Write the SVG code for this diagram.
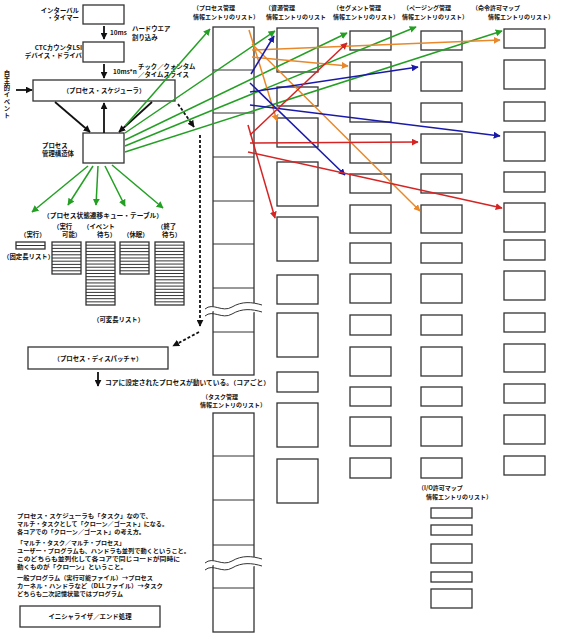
<svg xmlns="http://www.w3.org/2000/svg" width="561" height="640" viewBox="0 0 561 640">
<style>
.bx{fill:#fff;stroke:#333;stroke-width:1.3}
.ln{fill:none;stroke:#333;stroke-width:1}
.t{font-family:"Noto Sans CJK JP",sans-serif;font-size:6.4px;font-weight:700;fill:#111}
.n{font-family:"Noto Sans CJK JP",sans-serif;font-size:6px;font-weight:700;fill:#111}
.h{font-family:"Noto Sans CJK JP",sans-serif;font-size:6px;font-weight:700;fill:#111}
.v{font-family:"Noto Sans CJK JP",sans-serif;font-size:6.4px;font-weight:700;fill:#111;writing-mode:vertical-rl;letter-spacing:0.7px}
.k{fill:none;stroke:#111;stroke-width:1.8}
.g{fill:none;stroke:#23a023;stroke-width:1.5}
.o{fill:none;stroke:#e8882a;stroke-width:1.5}
.b{fill:none;stroke:#1a1aa8;stroke-width:1.5}
.r{fill:none;stroke:#d42424;stroke-width:1.5}
.d{fill:none;stroke:#111;stroke-width:1.8;stroke-dasharray:3 2}
</style>
<defs>
<marker id="mk" viewBox="0 0 10 10" refX="9" refY="5" markerWidth="7" markerHeight="7" markerUnits="userSpaceOnUse" orient="auto"><path d="M0,0L10,5L0,10z" fill="#111"/></marker>
<marker id="mg" viewBox="0 0 10 10" refX="9" refY="5" markerWidth="7" markerHeight="7" markerUnits="userSpaceOnUse" orient="auto"><path d="M0,0L10,5L0,10z" fill="#23a023"/></marker>
<marker id="mo" viewBox="0 0 10 10" refX="9" refY="5" markerWidth="7" markerHeight="7" markerUnits="userSpaceOnUse" orient="auto"><path d="M0,0L10,5L0,10z" fill="#e8882a"/></marker>
<marker id="mb" viewBox="0 0 10 10" refX="9" refY="5" markerWidth="7" markerHeight="7" markerUnits="userSpaceOnUse" orient="auto"><path d="M0,0L10,5L0,10z" fill="#1a1aa8"/></marker>
<marker id="mr" viewBox="0 0 10 10" refX="9" refY="5" markerWidth="7" markerHeight="7" markerUnits="userSpaceOnUse" orient="auto"><path d="M0,0L10,5L0,10z" fill="#d42424"/></marker>
</defs>
<rect width="561" height="640" fill="#fff"/>

<g id="timer">
<rect class="bx" x="83" y="5" width="41" height="19"/>
<text class="t" x="79" y="12.5" text-anchor="end">インターバル</text>
<text class="t" x="79" y="20" text-anchor="end">・タイマー</text>
</g>
<g id="ctc">
<rect class="bx" x="83" y="42" width="41" height="20"/>
<text class="t" x="82" y="50" text-anchor="end">CTCカウンタLSI</text>
<text class="t" x="82" y="58" text-anchor="end">デバイス・ドライバ</text>
</g>
<g id="labels-top">
<text class="t" x="110" y="34.5">10ms</text>
<text class="t" x="132" y="30.5">ハードウエア</text>
<text class="t" x="132" y="39.5">割り込み</text>
<text class="t" x="113" y="73.5">10ms*n</text>
<text class="t" x="138" y="68.5">チック／クォンタム</text>
<text class="t" x="138" y="76.5">／タイムスライス</text>
<text class="v" x="7" y="70">自主的イベント</text>
</g>
<g id="scheduler">
<rect class="bx" x="33" y="80" width="142" height="21"/>
<text class="t" x="104" y="93" text-anchor="middle">（プロセス・スケジューラ）</text>
</g>
<g id="struct">
<rect class="bx" x="83" y="133" width="41" height="30"/>
<text class="t" x="42" y="147.5">プロセス</text>
<text class="t" x="42" y="155.5">管理構造体</text>
</g>
<g id="queues">
<text class="t" x="43" y="217.5" textLength="120" lengthAdjust="spacingAndGlyphs">（プロセス状態遷移キュー・テーブル）</text>
<text class="t" x="20" y="237">（実行）</text>
<text class="t" x="53" y="229">（実行</text>
<text class="t" x="62" y="237">可能）</text>
<text class="t" x="83" y="229">（イベント</text>
<text class="t" x="97" y="237">待ち）</text>
<text class="t" x="123" y="237">（休眠）</text>
<text class="t" x="157" y="229">（終了</text>
<text class="t" x="162" y="237">待ち）</text>
<rect class="bx" x="16" y="242" width="29" height="7"/>
<path class="ln" d="M16,245.5h29"/>
<rect class="bx" x="52" y="242" width="29" height="32"/>
<path class="ln" d="M52,245.2h29M52,248.4h29M52,251.6h29M52,254.8h29M52,258h29M52,261.2h29M52,264.4h29M52,267.6h29M52,270.8h29"/>
<rect class="bx" x="86" y="242" width="29" height="63"/>
<path class="ln" d="M86,245.15h29M86,248.3h29M86,251.45h29M86,254.6h29M86,257.75h29M86,260.9h29M86,264.05h29M86,267.2h29M86,270.35h29M86,273.5h29M86,276.65h29M86,279.8h29M86,282.95h29M86,286.1h29M86,289.25h29M86,292.4h29M86,295.55h29M86,298.7h29M86,301.85h29"/>
<rect class="bx" x="120" y="242" width="29" height="32"/>
<path class="ln" d="M120,245.2h29M120,248.4h29M120,251.6h29M120,254.8h29M120,258h29M120,261.2h29M120,264.4h29M120,267.6h29M120,270.8h29"/>
<rect class="bx" x="155" y="242" width="29" height="63"/>
<path class="ln" d="M155,245.15h29M155,248.3h29M155,251.45h29M155,254.6h29M155,257.75h29M155,260.9h29M155,264.05h29M155,267.2h29M155,270.35h29M155,273.5h29M155,276.65h29M155,279.8h29M155,282.95h29M155,286.1h29M155,289.25h29M155,292.4h29M155,295.55h29M155,298.7h29M155,301.85h29"/>
<text class="t" x="3" y="258.5">（固定長リスト）</text>
<text class="t" x="93" y="321.5">（可変長リスト）</text>
</g>
<g id="dispatcher">
<rect class="bx" x="28" y="347" width="140" height="22"/>
<text class="t" x="98" y="360.5" text-anchor="middle">（プロセス・ディスパッチャ）</text>
<text class="t" x="105" y="384.5" textLength="165" lengthAdjust="spacingAndGlyphs">コアに設定されたプロセスが動いている。（コアごと）</text>
</g>

<g id="process-list">
<text class="h" x="193" y="10">（プロセス管理</text>
<text class="h" x="193" y="18.5">情報エントリのリスト）</text>
<rect class="bx" x="213" y="27" width="41" height="348"/>
<path class="ln" d="M213,70h41M213,113h41M213,157h41M213,201h41M213,244h41M213,288h41M213,332h41"/>
<path d="M205,309C213,302 222,313 232,307S252,302 262,305L262,312C252,309 242,320 232,314S213,309 205,316z" fill="#fff"/>
<path class="ln" d="M205,309C213,302 222,313 232,307S252,302 262,305M205,316C213,309 222,320 232,314S252,309 262,312"/>
</g>
<g id="task-list">
<text class="h" x="202" y="399">（タスク管理</text>
<text class="h" x="200" y="406.5">情報エントリのリスト）</text>
<rect class="bx" x="213" y="413" width="41" height="219"/>
<path class="ln" d="M213,456h41M213,500h41M213,545h41M213,588h41"/>
<path d="M205,563C213,556 222,567 232,561S252,556 262,559L262,566C252,563 242,574 232,568S213,563 205,570z" fill="#fff"/>
<path class="ln" d="M205,563C213,556 222,567 232,561S252,556 262,559M205,570C213,563 222,574 232,568S252,563 262,566"/>
</g>
<g id="resource-list">
<text class="h" x="265" y="10">（資源管理</text>
<text class="h" x="266" y="18.5">情報エントリのリスト</text>
<rect class="bx" x="277" y="28" width="41" height="44"/>
<rect class="bx" x="277" y="87" width="41" height="19"/>
<rect class="bx" x="277" y="118" width="41" height="29"/>
<rect class="bx" x="277" y="162" width="41" height="44"/>
<rect class="bx" x="277" y="217" width="41" height="44"/>
<rect class="bx" x="277" y="275" width="41" height="29"/>
<rect class="bx" x="277" y="313" width="41" height="44"/>
<rect class="bx" x="277" y="372" width="41" height="20"/>
<rect class="bx" x="277" y="403" width="41" height="44"/>
<rect class="bx" x="277" y="459" width="41" height="44"/>
</g>
<g id="segment-list">
<text class="h" x="333" y="10">（セグメント管理</text>
<text class="h" x="333" y="18.5">情報エントリのリスト）</text>
<rect class="bx" x="350" y="31" width="41" height="19"/>
<rect class="bx" x="350" y="62" width="41" height="29"/>
<rect class="bx" x="350" y="103" width="41" height="19"/>
<rect class="bx" x="350" y="134" width="41" height="29"/>
<rect class="bx" x="350" y="174" width="41" height="19"/>
<rect class="bx" x="350" y="205" width="41" height="28"/>
<rect class="bx" x="350" y="243" width="41" height="20"/>
<rect class="bx" x="350" y="274" width="41" height="29"/>
<rect class="bx" x="350" y="315" width="41" height="20"/>
<rect class="bx" x="350" y="347" width="41" height="29"/>
<rect class="bx" x="350" y="387" width="41" height="19"/>
<rect class="bx" x="350" y="417" width="41" height="29"/>
<rect class="bx" x="350" y="458" width="41" height="20"/>
</g>
<g id="paging-list">
<text class="h" x="403" y="10">（ページング管理</text>
<text class="h" x="402" y="18.5">情報エントリのリスト）</text>
<rect class="bx" x="421" y="31" width="41" height="19"/>
<rect class="bx" x="421" y="62" width="41" height="29"/>
<rect class="bx" x="421" y="103" width="41" height="19"/>
<rect class="bx" x="421" y="134" width="41" height="29"/>
<rect class="bx" x="421" y="174" width="41" height="19"/>
<rect class="bx" x="421" y="205" width="41" height="28"/>
<rect class="bx" x="421" y="243" width="41" height="20"/>
<rect class="bx" x="421" y="274" width="41" height="29"/>
<rect class="bx" x="421" y="315" width="41" height="20"/>
<rect class="bx" x="421" y="347" width="41" height="29"/>
<rect class="bx" x="421" y="387" width="41" height="19"/>
<rect class="bx" x="421" y="417" width="41" height="29"/>
<rect class="bx" x="421" y="458" width="41" height="20"/>
</g>
<g id="perm-list">
<text class="h" x="472" y="10">（命令許可マップ</text>
<text class="h" x="488" y="19">情報エントリのリスト）</text>
<rect class="bx" x="504" y="29" width="41" height="19"/>
<rect class="bx" x="504" y="60" width="41" height="29"/>
<rect class="bx" x="504" y="102" width="41" height="19"/>
<rect class="bx" x="504" y="132" width="41" height="29"/>
<rect class="bx" x="504" y="172" width="41" height="20"/>
<rect class="bx" x="504" y="203" width="41" height="29"/>
<rect class="bx" x="504" y="240" width="41" height="20"/>
<rect class="bx" x="504" y="271" width="41" height="29"/>
<rect class="bx" x="504" y="313" width="41" height="19"/>
<rect class="bx" x="504" y="344" width="41" height="28"/>
<rect class="bx" x="504" y="384" width="41" height="19"/>
<rect class="bx" x="504" y="415" width="41" height="29"/>
<rect class="bx" x="504" y="456" width="41" height="19"/>
</g>
<g id="io-list">
<text class="h" x="418" y="490">（I/O許可マップ</text>
<text class="h" x="426" y="499">情報エントリのリスト）</text>
<rect class="bx" x="431" y="508" width="41" height="10"/>
<rect class="bx" x="431" y="525" width="41" height="10"/>
<rect class="bx" x="431" y="544" width="41" height="19"/>
<rect class="bx" x="431" y="572" width="41" height="10"/>
<rect class="bx" x="431" y="589" width="41" height="19"/>
</g>
<g id="notes">
<text class="n" x="17" y="518" textLength="135" lengthAdjust="spacingAndGlyphs">プロセス・スケジューラも「タスク」なので、</text>
<text class="n" x="17" y="526" textLength="151" lengthAdjust="spacingAndGlyphs">マルチ・タスクとして「クローン／ゴースト」になる。</text>
<text class="n" x="17" y="534" textLength="128" lengthAdjust="spacingAndGlyphs">各コアでの「クローン／ゴースト」の考え方。</text>
<text class="n" x="17" y="545" textLength="108" lengthAdjust="spacingAndGlyphs">「マルチ・タスク／マルチ・プロセス」</text>
<text class="n" x="17" y="553" textLength="173" lengthAdjust="spacingAndGlyphs">ユーザー・プログラムも、ハンドラも並列で動くということ。</text>
<text class="n" x="17" y="561" textLength="163" lengthAdjust="spacingAndGlyphs">このどちらも並列化して各コアで同じコードが同時に</text>
<text class="n" x="17" y="569" textLength="110" lengthAdjust="spacingAndGlyphs">動くものが「クローン」ということ。</text>
<text class="n" x="17" y="580" textLength="136" lengthAdjust="spacingAndGlyphs">一般プログラム（実行可能ファイル）→プロセス</text>
<text class="n" x="17" y="588" textLength="146" lengthAdjust="spacingAndGlyphs">カーネル・ハンドラなど（DLLファイル）→タスク</text>
<text class="n" x="17" y="596" textLength="106" lengthAdjust="spacingAndGlyphs">どちらも二次記憶状態ではプログラム</text>
</g>
<g id="init">
<rect class="bx" x="20" y="606" width="140" height="21"/>
<text class="t" x="90" y="619.3" text-anchor="middle">イニシャライザ／エンド処理</text>
</g>

<g id="connectors">
<path class="k" d="M104,26V39" marker-end="url(#mk)"/>
<path class="k" d="M104,64V78" marker-end="url(#mk)"/>
<path class="k" d="M16,90H32" marker-end="url(#mk)"/>
<path class="k" d="M55,102L90,132" marker-end="url(#mk)"/>
<path class="k" d="M104,133V103" marker-end="url(#mk)"/>
<path class="k" d="M152,102L119,132" marker-end="url(#mk)"/>
<path class="k" d="M98,372V386" marker-end="url(#mk)"/>
<path class="d" d="M178,104L194,127" marker-end="url(#mk)"/>
<path class="d" d="M200,135V326" stroke-dasharray="2 2" marker-end="url(#mk)"/>
<path class="d" d="M199,332L173,346" marker-end="url(#mk)"/>
<path class="g" d="M88,166L32,212" marker-end="url(#mg)"/>
<path class="g" d="M93,166L68,205" marker-end="url(#mg)"/>
<path class="g" d="M98,166L96,205" marker-end="url(#mg)"/>
<path class="g" d="M105,166L125,206" marker-end="url(#mg)"/>
<path class="g" d="M112,165L163,208" marker-end="url(#mg)"/>
<path class="g" d="M125,126L210,29" marker-end="url(#mg)"/>
<path class="g" d="M125,133L275,31" marker-end="url(#mg)"/>
<path class="g" d="M125,140L347,33" marker-end="url(#mg)"/>
<path class="g" d="M125,146L416,27" marker-end="url(#mg)"/>
<path class="g" d="M125,152L502,31" marker-end="url(#mg)"/>
<path class="o" d="M252,57L348,66" marker-end="url(#mo)"/>
<path class="o" d="M252,50L500,40" marker-end="url(#mo)"/>
<path class="o" d="M249,30L277,121" marker-end="url(#mo)"/>
<path class="o" d="M252,44L420,211" marker-end="url(#mo)"/>
<path class="b" d="M251,74L274,36" marker-end="url(#mb)"/>
<path class="b" d="M250,92L418,67" marker-end="url(#mb)"/>
<path class="b" d="M250,105L500,136" marker-end="url(#mb)"/>
<path class="b" d="M250,83L345,175" marker-end="url(#mb)"/>
<path class="r" d="M250,135L347,43" marker-end="url(#mr)"/>
<path class="r" d="M248,125L275,218" marker-end="url(#mr)"/>
<path class="r" d="M250,143L418,142" marker-end="url(#mr)"/>
<path class="r" d="M248,152L502,208" marker-end="url(#mr)"/>
</g>
</svg>
